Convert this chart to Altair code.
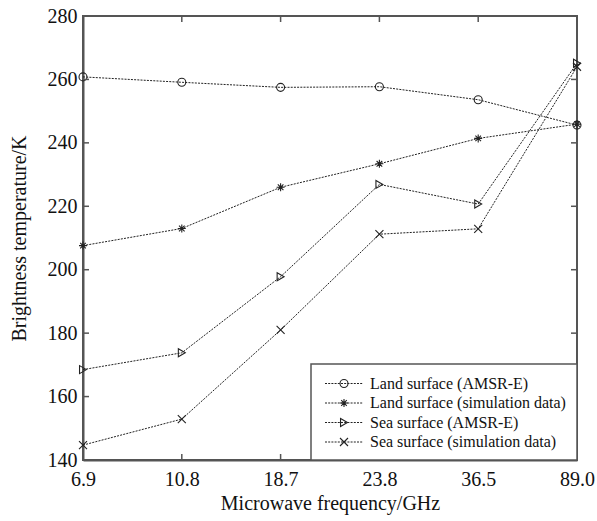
import altair as alt
import pandas as pd

freqs = ["6.9", "10.8", "18.7", "23.8", "36.5", "89.0"]
series = [
    "Land surface (AMSR-E)",
    "Land surface (simulation data)",
    "Sea surface (AMSR-E)",
    "Sea surface (simulation data)",
]
land_amsr = [260.8, 259.1, 257.5, 257.7, 253.6, 245.6]
land_sim = [207.6, 213.0, 226.0, 233.4, 241.4, 245.9]
sea_amsr = [168.5, 173.8, 197.8, 226.9, 220.7, 265.1]
sea_sim = [144.7, 152.9, 181.0, 211.2, 212.9, 264.0]
y_ticks = [140, 160, 180, 200, 220, 240, 260, 280]

shape_paths = [
    "circle",
    "M-1,0L1,0M0,-1L0,1M-0.7,-0.7L0.7,0.7M-0.7,0.7L0.7,-0.7",
    "triangle-right",
    "M-1,-1L1,1M-1,1L1,-1",
]
shape_sizes = [64, 64, 80, 30]

rows = []
for s, vals in zip(series, [land_amsr, land_sim, sea_amsr, sea_sim]):
    for f, v in zip(freqs, vals):
        rows.append({"freq": f, "tb": v, "series": s})
df = pd.DataFrame(rows)

W, H = 494, 444
FONT = "Liberation Serif"
INK = "#222222"
AX = "#555555"

xenc = alt.X("freq:N", sort=freqs, scale=alt.Scale(type="point", padding=0, domain=freqs),
             axis=alt.Axis(title="Microwave frequency/GHz", labelAngle=0, ticks=False,
                           labelPadding=9, titleY=43, titleBaseline="middle"))
yenc = alt.Y("tb:Q", scale=alt.Scale(domain=[140, 280], nice=False, zero=False),
             axis=alt.Axis(title="Brightness temperature/K", values=y_ticks, ticks=False,
                           labelPadding=6, titleX=-64, titleY=H / 2, titleBaseline="middle",
                           titleAlign="center", titleAngle=-90))

shape_scale = alt.Scale(domain=series, range=shape_paths)
size_scale = alt.Scale(domain=series, range=shape_sizes)

lines = alt.Chart(df).mark_line(color=INK, strokeWidth=1, strokeDash=[2, 1.2]).encode(
    x=xenc, y=yenc, detail="series:N", order=alt.Order("freq_idx:Q")
).transform_calculate(freq_idx="indexof(%s, datum.freq)" % str(freqs))

points = alt.Chart(df).mark_point(filled=False, color=INK, strokeWidth=1.1, opacity=1).encode(
    x=alt.X("freq:N", sort=freqs), y="tb:Q",
    shape=alt.Shape("series:N", scale=shape_scale, legend=None),
    size=alt.Size("series:N", scale=size_scale, legend=None),
)

# inside ticks
xt = pd.DataFrame({"freq": freqs})
yt = pd.DataFrame({"tb": y_ticks})
tick_style = dict(color=AX, strokeWidth=1.5)
top_ticks = alt.Chart(xt).mark_rule(**tick_style).encode(
    x=alt.X("freq:N", sort=freqs), y=alt.value(0), y2=alt.value(6))
bot_ticks = alt.Chart(xt).mark_rule(**tick_style).encode(
    x=alt.X("freq:N", sort=freqs), y=alt.value(H), y2=alt.value(H - 6))
left_ticks = alt.Chart(yt).mark_rule(**tick_style).encode(
    y="tb:Q", x=alt.value(0), x2=alt.value(6))
right_ticks = alt.Chart(yt).mark_rule(**tick_style).encode(
    y="tb:Q", x=alt.value(W), x2=alt.value(W - 6))

# manual legend
LX0, LX1, LY0 = 228, W, 348
legend_layers = [
    alt.Chart(pd.DataFrame({"a": [0]})).mark_rect(fill="white", stroke=AX, strokeWidth=1.5).encode(
        x=alt.value(LX0), x2=alt.value(LX1), y=alt.value(LY0), y2=alt.value(H))
]
row_y = [367.5, 387, 406.5, 426]
for i, s in enumerate(series):
    one = pd.DataFrame({"series": [s]})
    legend_layers.append(alt.Chart(one).mark_rule(color=INK, strokeWidth=1, strokeDash=[2, 1.2]).encode(
        x=alt.value(242), x2=alt.value(280), y=alt.value(row_y[i])))
    legend_layers.append(alt.Chart(one).mark_point(filled=False, color=INK, strokeWidth=1.1, opacity=1).encode(
        x=alt.value(261), y=alt.value(row_y[i]),
        shape=alt.Shape("series:N", scale=shape_scale, legend=None),
        size=alt.Size("series:N", scale=size_scale, legend=None)))
    legend_layers.append(alt.Chart(one).mark_text(align="left", baseline="middle", font=FONT,
                                                  fontSize=16, color="#111").encode(
        x=alt.value(287), y=alt.value(row_y[i]), text="series:N"))

chart = alt.layer(lines, points, top_ticks, bot_ticks, left_ticks, right_ticks, *legend_layers).properties(
    width=W, height=H,
    autosize=alt.AutoSizeParams(type="none"),
    padding={"left": 83, "top": 16, "right": 20, "bottom": 61},
    background="white",
).configure_view(stroke=AX, strokeWidth=2).configure_axis(
    grid=False, domainColor=AX, domainWidth=2, labelFont=FONT, titleFont=FONT,
    labelFontSize=20, titleFontSize=20, labelColor="#111", titleColor="#111",
    titleFontWeight="normal",
)

chart.save("out.html", embed_options={"renderer": "svg", "actions": False})
